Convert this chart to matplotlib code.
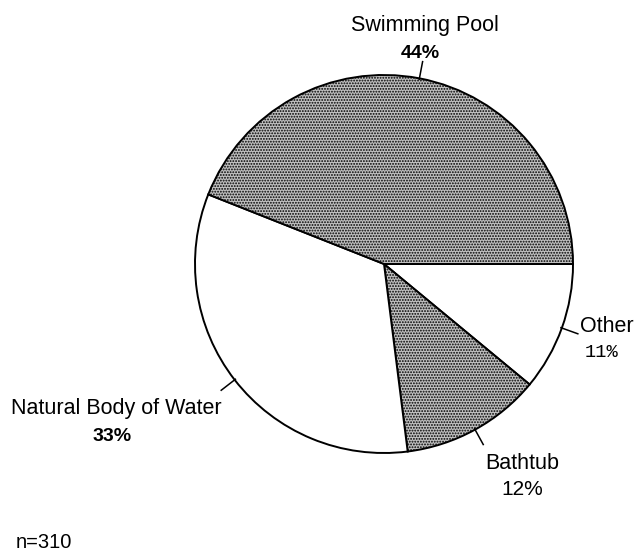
import numpy as np
import matplotlib
matplotlib.use("Agg")
import matplotlib.pyplot as plt

plt.rcParams['font.family'] = ['Liberation Sans', 'DejaVu Sans']
plt.rcParams['hatch.color'] = '#4a4a4a'
plt.rcParams['hatch.linewidth'] = 0.9

# share of drownings by place, clockwise from 3 o'clock
places = ['Other', 'Bathtub', 'Natural Body of Water', 'Swimming Pool']
shares = [11, 12, 33, 44]
shaded = [False, True, False, True]
n_total = 310

W, H = 635, 559
fig = plt.figure(figsize=(W / 100, H / 100), dpi=100)
ax = fig.add_axes([0, 0, 1, 1])

cx, cy, R = 384, H - 264, 189
wedges, _ = ax.pie(shares, startangle=0, counterclock=False,
                   center=(cx, cy), radius=R,
                   wedgeprops=dict(edgecolor='black', linewidth=1.4))
# pie() resets the limits, so pin them to pixel units afterwards
ax.set_xlim(0, W)
ax.set_ylim(0, H)
ax.set_aspect('equal')
ax.axis('off')

for w, s in zip(wedges, shaded):
    if s:
        w.set_facecolor('#c0c0c0')
        w.set_hatch('......')
    else:
        w.set_facecolor('white')

# leader ticks at each wedge's mid angle
for w in wedges:
    mid = np.deg2rad((w.theta1 + w.theta2) / 2)
    r0, r1 = R * 0.995, R * 1.09
    ax.plot([cx + r0 * np.cos(mid), cx + r1 * np.cos(mid)],
            [cy + r0 * np.sin(mid), cy + r1 * np.sin(mid)],
            color='black', lw=1.1)

def put(x, y, s, **kw):
    ax.text(x, H - y, s, va='baseline', **kw)

put(425, 31, places[3], ha='center', fontsize=15.5)
put(420, 58, f"{shares[3]}%", ha='center', fontsize=14, fontweight='bold')

put(116, 414, places[2], ha='center', fontsize=15.5)
put(112, 441, f"{shares[2]}%", ha='center', fontsize=14, fontweight='semibold')

put(522, 469, places[1], ha='center', fontsize=15.5)
put(522, 495, f"{shares[1]}%", ha='center', fontsize=15)

put(580, 332, places[0], ha='left', fontsize=15.5)
put(585, 357, f"{shares[0]}%", ha='left', fontsize=13.5, family='Liberation Mono')

put(16, 548, f"n={n_total}", ha='left', fontsize=14.5)

fig.savefig('out.png', dpi=100)
